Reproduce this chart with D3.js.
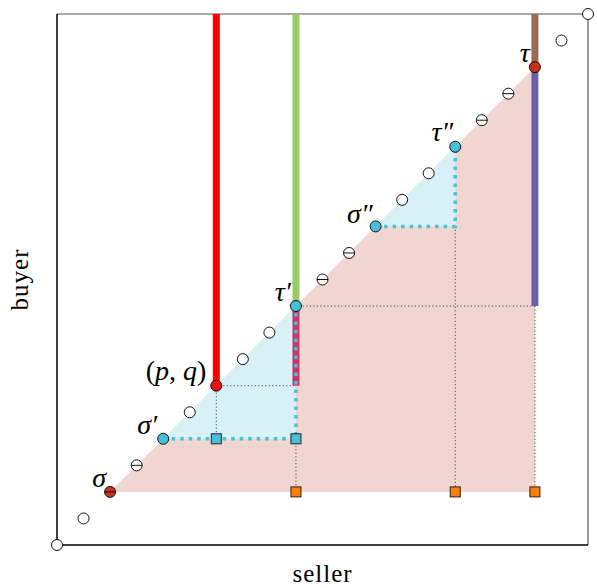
<!DOCTYPE html>
<html><head><meta charset="utf-8">
<script src="https://cdn.jsdelivr.net/npm/d3@7"></script>
<style>body{margin:0;background:#fff}svg{display:block}</style>
</head><body>
<svg id="c" width="597" height="588"></svg>
<script>
// grid coordinates 0..20 (seller on x, buyer on y)
const gridMax = 20;
const openPts = [0, 1, 5, 7, 8, 13, 14, 19, 20];
const ominusPts = [3, 10, 11, 16, 17];
const namedPts = [
  {label: "σ", i: 2, kind: "redOminus"},
  {label: "σ′", i: 4, kind: "cyan"},
  {label: "(p,q)", i: 6, kind: "red"},
  {label: "τ′", i: 9, kind: "cyan"},
  {label: "σ″", i: 12, kind: "cyan"},
  {label: "τ″", i: 15, kind: "cyan"},
  {label: "τ", i: 18, kind: "darkRed"}
];
// regions (polygons in grid coords)
const pinkRegion = [[2, 2], [18, 2], [18, 18]];
const cyanRegions = [[[4, 4], [9, 4], [9, 9]], [[12, 12], [15, 12], [15, 15]]];
// thick vertical segments: x, from, to
const thickLines = [
  {x: 6, y0: 6, y1: 20, c: "red"},
  {x: 9, y0: 9, y1: 20, c: "green"},
  {x: 9, y0: 6, y1: 9, c: "crimson"},
  {x: 18, y0: 18, y1: 20, c: "brown"},
  {x: 18, y0: 9, y1: 18, c: "purple"}
];
// thin dotted segments
const thinDotted = [
  [[6, 6], [9, 6]], [[6, 6], [6, 4]], [[9, 9], [18, 9]],
  [[9, 4], [9, 2]], [[15, 12], [15, 2]], [[18, 9], [18, 2]]
];
// cyan dotted paths
const cyanDotted = [
  [[4, 4], [9, 4], [9, 9]],
  [[12, 12], [15, 12], [15, 15]]
];
const cyanSquares = [[6, 4], [9, 4]];
const orangeSquares = [[9, 2], [15, 2], [18, 2]];
const xTitle = "seller", yTitle = "buyer";

const colors = {red: "#ff0000", green: "#99cc66", crimson: "#cc3366", brown: "#9c6b55", purple: "#6b5fa9"};
const svg = d3.select("#c");
const x = d3.scaleLinear().domain([0, gridMax]).range([57, 588]);
const y = d3.scaleLinear().domain([0, gridMax]).range([545, 14]);
const line = d3.line().x(d => x(d[0])).y(d => y(d[1]));

svg.append("path").attr("d", line(pinkRegion) + "Z").attr("fill", "#f1d5d1");
cyanRegions.forEach(r => svg.append("path").attr("d", line(r) + "Z").attr("fill", "#d8f1f6"));

// border
svg.append("path").attr("d", line([[0, gridMax], [gridMax, gridMax], [gridMax, 0]]))
  .attr("fill", "none").attr("stroke", "#555").attr("stroke-width", 1.2);
svg.append("path").attr("d", line([[0, gridMax], [0, 0], [gridMax, 0]]))
  .attr("fill", "none").attr("stroke", "#000").attr("stroke-width", 1.5);

thinDotted.forEach(s => svg.append("path").attr("d", line(s)).attr("fill", "none")
  .attr("stroke", "#333").attr("stroke-width", 1).attr("stroke-dasharray", "1,2.5"));

thickLines.forEach(l => svg.append("line")
  .attr("x1", x(l.x)).attr("x2", x(l.x)).attr("y1", y(l.y0)).attr("y2", y(l.y1))
  .attr("stroke", colors[l.c]).attr("stroke-width", 7));

cyanDotted.forEach(s => svg.append("path").attr("d", line(s)).attr("fill", "none")
  .attr("stroke", "#45c1da").attr("stroke-width", 3.5).attr("stroke-dasharray", "3.5,5"));

const sq = 10;
cyanSquares.forEach(p => svg.append("rect").attr("x", x(p[0]) - sq / 2).attr("y", y(p[1]) - sq / 2)
  .attr("width", sq).attr("height", sq).attr("fill", "#45c1da").attr("stroke", "#222").attr("stroke-width", 1));
orangeSquares.forEach(p => svg.append("rect").attr("x", x(p[0]) - sq / 2).attr("y", y(p[1]) - sq / 2)
  .attr("width", sq).attr("height", sq).attr("fill", "#ff8000").attr("stroke", "#222").attr("stroke-width", 1));

const r = 5.5;
function circ(i, fill) {
  svg.append("circle").attr("cx", x(i)).attr("cy", y(i)).attr("r", r)
    .attr("fill", fill).attr("stroke", "#111").attr("stroke-width", 1);
}
function bar(i) {
  svg.append("line").attr("x1", x(i) - r).attr("x2", x(i) + r).attr("y1", y(i)).attr("y2", y(i))
    .attr("stroke", "#111").attr("stroke-width", 1);
}
openPts.forEach(i => circ(i, "#fff"));
ominusPts.forEach(i => { circ(i, "#fff"); bar(i); });

const fills = {redOminus: "#c8321f", cyan: "#45c1da", red: "#ee1111", darkRed: "#c8321f"};
const offs = {2: [-4, -5], 4: [-6, -5], 6: [-10, -6], 9: [-5, -5], 12: [-3, -3], 15: [-2, -6], 18: [-5, -5]};
namedPts.forEach(p => {
  circ(p.i, fills[p.kind]);
  if (p.kind === "redOminus") bar(p.i);
  const o = offs[p.i];
  const t = svg.append("text").attr("x", x(p.i) + o[0]).attr("y", y(p.i) + o[1])
    .attr("text-anchor", "end").attr("font-family", "Liberation Serif").attr("font-size", 28);
  if (p.label === "(p,q)") {
    t.append("tspan").text("(");
    t.append("tspan").attr("font-style", "italic").text("p");
    t.append("tspan").text(", ");
    t.append("tspan").attr("font-style", "italic").text("q");
    t.append("tspan").text(")");
  } else {
    t.attr("font-style", "italic").text(p.label);
  }
});

svg.append("text").attr("x", (x(0) + x(gridMax)) / 2).attr("y", 582).attr("text-anchor", "middle")
  .attr("font-family", "Liberation Serif").attr("font-size", 25).attr("letter-spacing", 1).text(xTitle);
svg.append("text").attr("transform", `translate(28,${(y(0) + y(gridMax)) / 2}) rotate(-90)`)
  .attr("text-anchor", "middle").attr("font-family", "Liberation Serif").attr("font-size", 25)
  .attr("letter-spacing", 1).text(yTitle);
</script>
</body></html>
